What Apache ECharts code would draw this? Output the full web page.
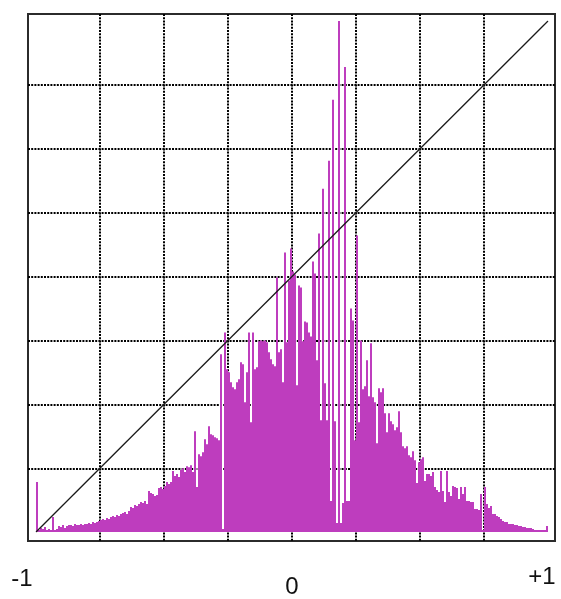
<!DOCTYPE html>
<html><head><meta charset="utf-8">
<script src="https://cdn.jsdelivr.net/npm/echarts@6/dist/echarts.min.js"></script>
<style>html,body{margin:0;padding:0;background:#fff}#c{width:561px;height:599px}</style>
</head><body><div id="c"></div>
<script>
// Histogram bin heights (256 bins over [-1, +1]); y scale 0..512, one grid step = 64
const countsLeftTail = [
  50, 2, 4, 3, 5, 2, 3, 2, 15, 2, 3, 6, 5, 7, 4, 6,
  7, 7, 6, 8, 7, 7, 8, 7, 8, 8, 9, 8, 10, 9, 10, 11,
  12, 13, 12, 14, 13, 15, 16, 15, 17, 16, 18, 19, 20, 18, 21, 25,
  24, 27, 26, 28, 30, 29, 31, 28, 41, 39, 38, 36, 37, 44, 45, 43
];
const countsLeftCore = [
  46, 50, 48, 50, 61, 56, 58, 55, 62, 64, 60, 66, 65, 67, 60, 101,
  45, 78, 76, 80, 93, 88, 106, 98, 97, 95, 94, 92, 178, 3, 200, 163,
  160, 150, 145, 143, 150, 153, 170, 168, 130, 160, 200, 110, 200, 163, 165, 191,
  192, 191, 192, 190, 180, 173, 168, 166, 255, 180, 183, 150, 280, 190, 252, 284
];
const countsRightCore = [
  261, 258, 147, 247, 245, 191, 211, 210, 200, 196, 271, 259, 172, 299, 112, 344,
  149, 112, 372, 31, 433, 111, 9, 512, 9, 29, 466, 31, 31, 224, 212, 92,
  297, 110, 192, 143, 146, 172, 136, 189, 135, 130, 89, 144, 140, 144, 119, 100,
  119, 111, 108, 102, 105, 121, 100, 86, 84, 86, 77, 75, 81, 72, 49, 70
];
const countsRightTail = [
  73, 75, 51, 58, 58, 56, 60, 45, 42, 40, 61, 41, 30, 61, 40, 36,
  46, 45, 44, 33, 45, 38, 45, 31, 31, 30, 30, 23, 23, 22, 38, 2,
  45, 28, 24, 26, 18, 18, 16, 15, 13, 11, 10, 10, 8, 8, 8, 7,
  7, 6, 6, 5, 5, 4, 4, 4, 3, 2, 2, 2, 2, 2, 2, 6
];
const counts = [].concat(countsLeftTail, countsLeftCore, countsRightCore, countsRightTail);
const binCategories = counts.map((_, i) => (-1 + (i + 0.5) * 2 / counts.length).toFixed(4));
const diagonalLine = [[-1, 0], [1, 512]];
const tickValues = [-1, 0, 1];
const tickLabels = ['-1', '0', '+1'];
const tickStyleKeys = ['m', 'z', 'p'];

const dotted = { color: '#000', width: 2, type: [2, 1.2] };
const labelFont = '"Liberation Sans", Arial, sans-serif';
const chart = echarts.init(document.getElementById('c'), null, { renderer: 'canvas' });
chart.setOption({
  animation: false,
  backgroundColor: '#fff',
  grid: [
    { left: 28, top: 14, width: 527, height: 527, show: true, borderColor: '#2b2b2b', borderWidth: 2, backgroundColor: '#fff' },
    { left: 36, top: 14, width: 512, height: 527 },
    { left: 28, top: 21, width: 527, height: 512 },
    { left: 36, top: 21, width: 512, height: 512 }
  ],
  xAxis: [
    { gridIndex: 0, type: 'value', min: 0, max: 1, show: false },
    { gridIndex: 1, type: 'value', min: -1, max: 1, interval: 0.25,
      axisLine: { show: false }, axisTick: { show: false }, axisLabel: { show: false },
      splitLine: { show: true, showMinLine: false, showMaxLine: false, lineStyle: dotted } },
    { gridIndex: 2, type: 'value', min: 0, max: 1, show: false },
    { gridIndex: 3, type: 'category', data: binCategories, position: 'top', show: false, boundaryGap: true },
    { gridIndex: 3, type: 'value', min: -1, max: 1, interval: 1, position: 'bottom',
      axisLine: { show: false }, axisTick: { show: false }, splitLine: { show: false },
      axisLabel: {
        show: true, showMinLabel: true, showMaxLabel: true, margin: 33,
        fontSize: 24, fontFamily: labelFont, color: '#111',
        formatter: function (v) {
          const k = tickValues.indexOf(Math.round(v));
          return '{' + tickStyleKeys[k] + '|' + tickLabels[k] + '}';
        },
        rich: {
          m: { fontSize: 24, fontFamily: labelFont, color: '#111', padding: [2, 28, 0, 0] },
          z: { fontSize: 24, fontFamily: labelFont, color: '#111', padding: [10, 0, 0, 0] },
          p: { fontSize: 24, fontFamily: labelFont, color: '#111', padding: [0, 12, 0, 0] }
        }
      } }
  ],
  yAxis: [
    { gridIndex: 0, type: 'value', min: 0, max: 1, show: false },
    { gridIndex: 1, type: 'value', min: 0, max: 1, show: false },
    { gridIndex: 2, type: 'value', min: 0, max: 512, interval: 64,
      axisLine: { show: false }, axisTick: { show: false }, axisLabel: { show: false },
      splitLine: { show: true, showMinLine: false, showMaxLine: false, lineStyle: dotted } },
    { gridIndex: 3, type: 'value', min: 0, max: 512, show: false }
  ],
  series: [
    { type: 'bar', xAxisIndex: 3, yAxisIndex: 3, data: counts, barWidth: '100%', barCategoryGap: '0%',
      itemStyle: { color: '#BE3DBE' }, z: 2 },
    { type: 'line', xAxisIndex: 4, yAxisIndex: 3, data: diagonalLine, symbol: 'none',
      lineStyle: { color: '#1a1a1a', width: 1.3 }, z: 3 }
  ]
});
</script></body></html>
